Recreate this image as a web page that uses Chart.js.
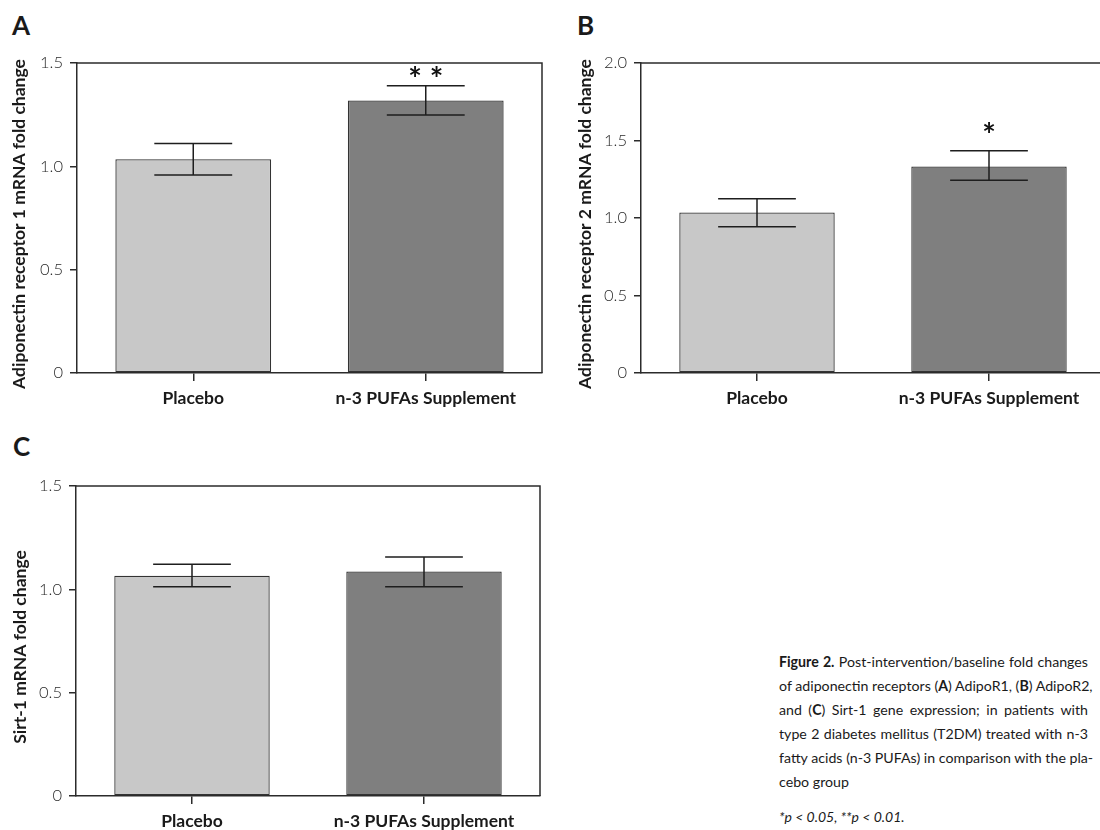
<!DOCTYPE html>
<html>
<head>
<meta charset="utf-8">
<script src="https://cdn.jsdelivr.net/npm/chart.js@4.4.1/dist/chart.umd.min.js"></script>
<style>
  html, body { margin: 0; padding: 0; background: #fff; }
  body { width: 1100px; height: 830px; position: relative; overflow: hidden; font-family: Lato, "Open Sans", sans-serif; }
  .letter { position: absolute; font-size: 26px; font-weight: 700; color: #1a1a1a; line-height: 1; }
  .cv { position: absolute; }
  #caption { position: absolute; left: 779px; top: 650px; width: 309px; font-size: 14.2px; line-height: 24px; color: #1a1a1a; }
  #caption .j { text-align: justify; text-align-last: justify; white-space: nowrap; }
  #caption .l { text-align: left; white-space: nowrap; }
  #foot { position: absolute; left: 779px; top: 808px; font-size: 14px; font-style: italic; color: #1a1a1a; white-space: nowrap; }
</style>
</head>
<body>
<div class="letter" style="left:12px; top:12px;">A</div>
<div class="letter" style="left:577px; top:12px;">B</div>
<div class="letter" style="left:13px; top:433px;">C</div>

<canvas id="cA" class="cv" style="left:0px; top:40px;"></canvas>
<canvas id="cB" class="cv" style="left:564px; top:40px;"></canvas>
<canvas id="cC" class="cv" style="left:0px; top:462px;"></canvas>

<div id="caption">
  <div class="j"><b>Figure 2.</b> Post-intervention/baseline fold changes</div>
  <div class="j">of adiponectin receptors (<b>A</b>) AdipoR1, (<b>B</b>) AdipoR2,</div>
  <div class="j">and (<b>C</b>) Sirt-1 gene expression; in patients with</div>
  <div class="j">type 2 diabetes mellitus (T2DM) treated with n-3</div>
  <div class="j">fatty acids (n-3 PUFAs) in comparison with the pla-</div>
  <div class="l">cebo group</div>
</div>
<div id="foot">*p &lt; 0.05, **p &lt; 0.01.</div>

<script>
// ---- data ----
const categories = ["Placebo", "n-3 PUFAs Supplement"];

const adipoR1Mean = [1.034, 1.319];
const adipoR1Low  = [0.958, 1.248];
const adipoR1High = [1.110, 1.390];
const adipoR1Sig  = ["", "* *"];
const adipoR1SigLevel = [null, 1.45];
const adipoR1Ticks = [0, 0.5, 1.0, 1.5];

const adipoR2Mean = [1.036, 1.333];
const adipoR2Low  = [0.944, 1.243];
const adipoR2High = [1.125, 1.434];
const adipoR2Sig  = ["", "*"];
const adipoR2SigLevel = [null, 1.57];
const adipoR2Ticks = [0, 0.5, 1.0, 1.5, 2.0];

const sirt1Mean = [1.066, 1.086];
const sirt1Low  = [1.013, 1.013];
const sirt1High = [1.121, 1.156];
const sirt1Sig  = ["", ""];
const sirt1SigLevel = [null, null];
const sirt1Ticks = [0, 0.5, 1.0, 1.5];

const barColors = ["#c8c8c8", "#7f7f7f"];
const AXIS = "#2b2b2b";
const FONT = "Lato, 'Open Sans', sans-serif";

function fmtTick(v) { return v === 0 ? "0" : v.toFixed(1); }

function makePanel(id, cfg) {
  const canvas = document.getElementById(id);
  canvas.width = cfg.w; canvas.height = cfg.h;
  canvas.style.width = cfg.w + "px"; canvas.style.height = cfg.h + "px";

  const overlay = {
    id: "overlay",
    afterDraw(chart) {
      const ctx = chart.ctx;
      const ca = chart.chartArea;
      const y = chart.scales.y;
      const meta = chart.getDatasetMeta(0);
      ctx.save();
      // frame top and right
      ctx.strokeStyle = AXIS;
      ctx.lineWidth = 1.5;
      ctx.beginPath();
      ctx.moveTo(ca.left, ca.top);
      ctx.lineTo(ca.right, ca.top);
      ctx.lineTo(ca.right, ca.bottom);
      ctx.stroke();
      // error bars
      ctx.strokeStyle = "#1e1e1e";
      ctx.lineWidth = 1.5;
      meta.data.forEach((bar, i) => {
        const cx = bar.x;
        const half = bar.width / 4;
        const yl = y.getPixelForValue(cfg.low[i]);
        const yh = y.getPixelForValue(cfg.high[i]);
        ctx.beginPath();
        ctx.moveTo(cx, yl); ctx.lineTo(cx, yh);
        ctx.moveTo(cx - half, yl); ctx.lineTo(cx + half, yl);
        ctx.moveTo(cx - half, yh); ctx.lineTo(cx + half, yh);
        ctx.stroke();
        if (cfg.sig[i]) {
          ctx.fillStyle = "#111";
          ctx.font = "700 32px " + FONT;
          ctx.textAlign = "center";
          ctx.textBaseline = "middle";
          ctx.fillText(cfg.sig[i], cx, y.getPixelForValue(cfg.sigLevel[i]) + 7);
        }
      });
      // y-axis title
      ctx.fillStyle = "#1a1a1a";
      ctx.font = "700 17.5px " + FONT;
      ctx.textAlign = "center";
      ctx.textBaseline = "middle";
      ctx.translate(cfg.titleX, (ca.top + ca.bottom) / 2 + 6);
      ctx.rotate(-Math.PI / 2);
      ctx.fillText(cfg.title, 0, 0);
      ctx.restore();
    }
  };

  return new Chart(canvas, {
    type: "bar",
    data: {
      labels: categories,
      datasets: [{
        data: cfg.mean,
        backgroundColor: barColors,
        borderColor: "#333",
        borderWidth: 1.3,
        borderSkipped: false,
        categoryPercentage: 0.67,
        barPercentage: 1.0
      }]
    },
    options: {
      responsive: false,
      animation: false,
      devicePixelRatio: 1,
      layout: { padding: { top: cfg.padTop, right: cfg.padRight, bottom: 0, left: 0 } },
      plugins: { legend: { display: false }, tooltip: { enabled: false } },
      scales: {
        x: {
          offset: true,
          grid: { display: true, offset: false, drawOnChartArea: false, drawTicks: true, tickLength: 8, color: AXIS, lineWidth: 1.5 },
          border: { display: true, color: AXIS, width: 1.5 },
          ticks: { color: "#1a1a1a", font: { family: FONT, size: 17.5, weight: "700" }, padding: 7, maxRotation: 0 },
          afterFit(s) { s.height = cfg.xH; }
        },
        y: {
          min: 0, max: cfg.max,
          afterBuildTicks(s) { s.ticks = cfg.ticks.map(v => ({ value: v })); },
          grid: { display: true, drawOnChartArea: false, drawTicks: true, tickLength: 7, color: AXIS, lineWidth: 1.5 },
          border: { display: true, color: AXIS, width: 1.5 },
          ticks: { color: "#2a2a2a", font: { family: FONT, size: 16.5, weight: "300" }, padding: 7, callback: v => fmtTick(v) },
          afterFit(s) { s.width = cfg.yW; }
        }
      }
    },
    plugins: [overlay]
  });
}

// Panel A: chart area x 77..542, y 63..373
makePanel("cA", { w: 560, h: 380, padTop: 23, padRight: 18, xH: 47, yW: 77, max: 1.5, ticks: adipoR1Ticks,
  mean: adipoR1Mean, low: adipoR1Low, high: adipoR1High, sig: adipoR1Sig, sigLevel: adipoR1SigLevel,
  title: "Adiponectin receptor 1 mRNA fold change", titleX: 19 });

// Panel B: chart area x 641..1105, y 63..373 (canvas starts at 564)
makePanel("cB", { w: 560, h: 380, padTop: 23, padRight: 19, xH: 47, yW: 77, max: 2.0, ticks: adipoR2Ticks,
  mean: adipoR2Mean, low: adipoR2Low, high: adipoR2High, sig: adipoR2Sig, sigLevel: adipoR2SigLevel,
  title: "Adiponectin receptor 2 mRNA fold change", titleX: 21 });

// Panel C: chart area x 76..540, y 486..796 (canvas starts at 462)
makePanel("cC", { w: 560, h: 368, padTop: 24, padRight: 20, xH: 34, yW: 76, max: 1.5, ticks: sirt1Ticks,
  mean: sirt1Mean, low: sirt1Low, high: sirt1High, sig: sirt1Sig, sigLevel: sirt1SigLevel,
  title: "Sirt-1 mRNA fold change", titleX: 20 });
</script>
</body>
</html>
